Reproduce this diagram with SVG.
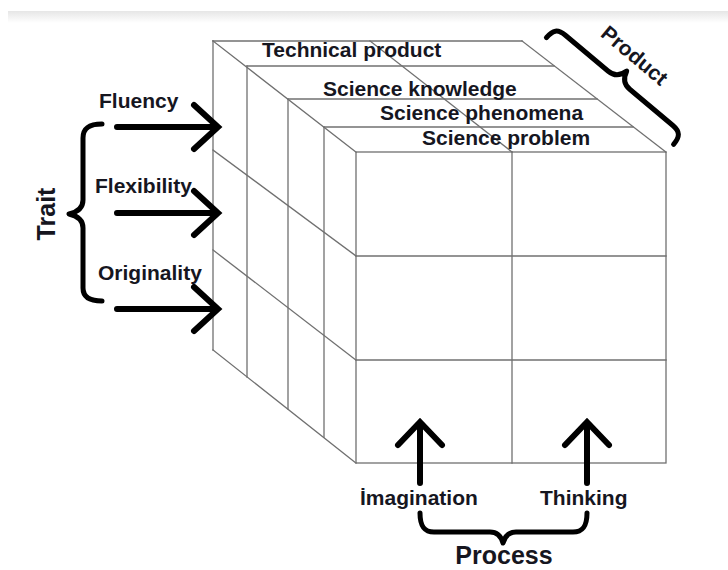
<svg xmlns="http://www.w3.org/2000/svg" width="728" height="570" viewBox="0 0 728 570">
<defs>
<linearGradient id="band" x1="0" y1="0" x2="0" y2="1">
<stop offset="0" stop-color="#e6e6e6"/>
<stop offset="1" stop-color="#ffffff"/>
</linearGradient>
<style>
.ln{stroke:#707070;stroke-width:1.3;fill:none;stroke-linecap:square}
.lbl{font-family:"Liberation Sans",Arial,sans-serif;font-weight:bold;font-size:21px;fill:#16161f}
.big{font-size:25px}
.arr{stroke:#000;stroke-width:6;fill:none;stroke-linecap:round;stroke-linejoin:miter}
.brace{stroke:#000;stroke-width:5;fill:none;stroke-linecap:round;stroke-linejoin:round}
</style>
</defs>
<rect width="728" height="570" fill="#fff"/>
<rect x="8" y="11" width="720" height="12" fill="url(#band)"/>

<g id="cube">
<g id="side-face">
<line class="ln" x1="213" y1="41" x2="213" y2="350"/>
<line class="ln" x1="247" y1="66" x2="247" y2="377"/>
<line class="ln" x1="288" y1="99" x2="288" y2="409"/>
<line class="ln" x1="324" y1="127" x2="324" y2="437"/>
<line class="ln" x1="213" y1="350" x2="356" y2="463"/>
<line class="ln" x1="213" y1="150" x2="356" y2="256"/>
<line class="ln" x1="213" y1="250" x2="356" y2="360"/>
</g>
<g id="top-face">
<line class="ln" x1="213" y1="41" x2="522" y2="41"/>
<line class="ln" x1="247" y1="66" x2="554" y2="66"/>
<line class="ln" x1="288" y1="99" x2="597" y2="99"/>
<line class="ln" x1="324" y1="127" x2="633" y2="127"/>
<line class="ln" x1="213" y1="41" x2="356" y2="152"/>
<line class="ln" x1="522" y1="41" x2="666" y2="152"/>
<line class="ln" x1="370" y1="41" x2="512" y2="152"/>
</g>
<g id="front-face">
<rect class="ln" x="356" y="152" width="310" height="311"/>
<line class="ln" x1="512" y1="152" x2="512" y2="463"/>
<line class="ln" x1="356" y1="256" x2="666" y2="256"/>
<line class="ln" x1="356" y1="360" x2="666" y2="360"/>
</g>
</g>

<g id="product-labels">
<text class="lbl" x="262" y="57">Technical product</text>
<text class="lbl" x="323" y="96">Science knowledge</text>
<text class="lbl" x="380" y="120">Science phenomena</text>
<text class="lbl" x="422" y="145">Science problem</text>
</g>

<g id="product">
<path class="brace" transform="translate(610,91) rotate(40)" d="M -83,0 C -83,-10 -80,-14 -70,-14 L -14,-14 C -6,-14 -2,-18 0,-26 C 2,-18 6,-14 14,-14 L 70,-14 C 80,-14 83,-10 83,0"/>
<text class="lbl" text-anchor="middle" transform="translate(630,61) rotate(40)">Product</text>
</g>

<g id="trait">
<path class="brace" d="M 102,124 C 91,124 83,127 83,138 L 83,200 C 83,208 78,212 69,214 C 78,216 83,220 83,228 L 83,288 C 83,298 91,301 102,301"/>
<text class="lbl big" text-anchor="middle" transform="translate(55,214) rotate(-90)">Trait</text>
</g>

<g id="fluency"><text class="lbl" x="99" y="108">Fluency</text></g>
<g id="flexibility"><text class="lbl" x="95" y="193">Flexibility</text></g>
<g id="originality"><text class="lbl" x="98" y="280">Originality</text></g>

<g id="process">
<path class="brace" d="M 420,513 C 420,526 424,532 434,532 L 490,532 C 497,532 501,536 503,543 C 505,536 509,532 516,532 L 573,532 C 583,532 587,526 587,513"/>
<text class="lbl big" text-anchor="middle" x="504" y="564">Process</text>
</g>
<g id="imagination"><text class="lbl" x="360" y="505">İmagination</text></g>
<g id="thinking"><text class="lbl" x="540" y="505">Thinking</text></g>

<g id="connectors">
<path class="arr" d="M117,127 H217 M194,105 L218,127 L194,149"/>
<path class="arr" d="M117,213 H217 M194,191 L218,213 L194,235"/>
<path class="arr" d="M117,309 H217 M194,287 L218,309 L194,331"/>
<path class="arr" d="M420,483 V423 M398,445 L420,422 L442,445"/>
<path class="arr" d="M587,483 V423 M565,445 L587,422 L609,445"/>
</g>
</svg>
